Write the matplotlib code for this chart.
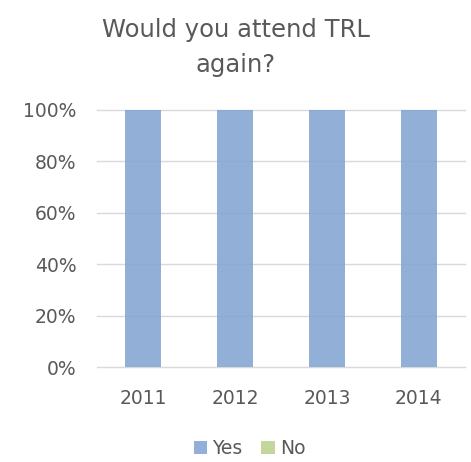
import numpy as np
import matplotlib.pyplot as plt

plt.rcParams["font.family"] = ["DejaVu Sans"]

years = ["2011", "2012", "2013", "2014"]
yes = [100, 100, 100, 100]
no = [0, 0, 0, 0]

fig = plt.figure(figsize=(4.71, 4.62), dpi=100)
ax = fig.add_axes([0.206, 0.2056, 0.781, 0.5564])

x = np.arange(len(years))
ax.bar(x, yes, width=0.39, color="#7FA2D1", alpha=0.85, label="Yes", zorder=3)
ax.bar(x, no, width=0.39, bottom=yes, color="#C3D69B", label="No", zorder=3)

ax.set_ylim(0, 100)
ax.set_xlim(-0.5, len(years) - 0.5)
ax.set_yticks(range(0, 101, 20))
ax.set_yticklabels([f"{v}%" for v in range(0, 101, 20)])
ax.set_xticks(x)
ax.set_xticklabels(years)
ax.grid(axis="y", color="#D9D9D9", linewidth=1.0, zorder=1)
for gl in ax.get_ygridlines():
    gl.set_clip_on(False)
for s in ax.spines.values():
    s.set_visible(False)
ax.tick_params(length=0, colors="#595959", labelsize=13.5, pad=16)
ax.tick_params(axis="y", pad=15)

fig.suptitle("Would you attend TRL\nagain?", x=0.5, y=0.962, fontsize=17.5,
             color="#595959", linespacing=1.6)
fig.legend(loc="lower center", bbox_to_anchor=(0.53, -0.028), ncol=2, frameon=False,
           fontsize=13.5, labelcolor="#595959", handlelength=0.7, handleheight=0.7,
           handletextpad=0.3, columnspacing=1.0)

fig.savefig("out.png", dpi=100)
